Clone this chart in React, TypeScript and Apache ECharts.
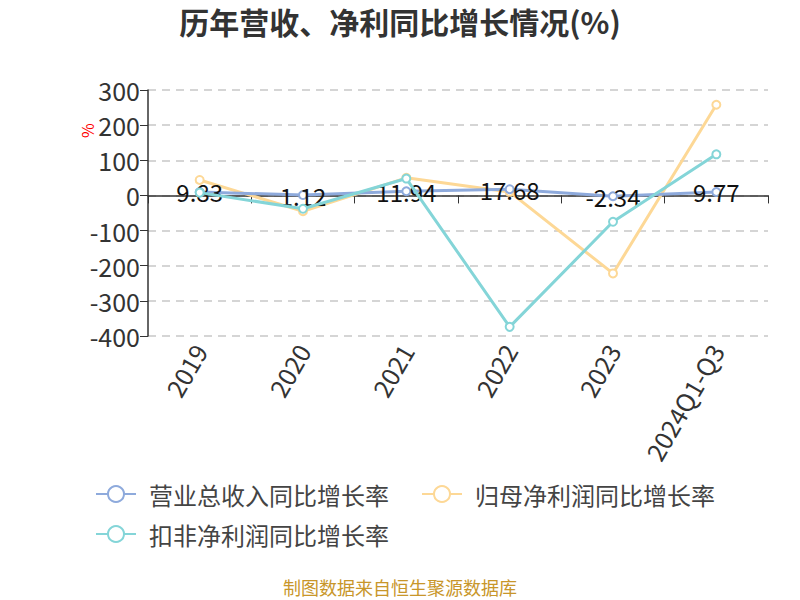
import React, { useEffect, useRef } from "react";
import * as echarts from "echarts";

const categories = ["2019", "2020", "2021", "2022", "2023", "2024Q1-Q3"];
const revenueGrowth = [9.83, 1.12, 11.94, 17.68, -2.34, 9.77];
const parentProfitGrowth = [44, -45, 50, 10, -222, 258];
const deductedProfitGrowth = [8, -38, 48, -374, -75, 117];
const yTicks = { min: -400, max: 300, interval: 100 };

export default function App() {
  const ref = useRef<HTMLDivElement>(null);
  useEffect(() => {
    if (!ref.current) return;
    const chart = echarts.init(ref.current, null, { renderer: "svg" });
    const font = "'Microsoft YaHei', 'Noto Sans CJK SC', sans-serif";
    const lineSeries = (name: string, data: number[], color: string, withLabel: boolean, z: number) => ({
      name,
      type: "line",
      data,
      symbol: "emptyCircle",
      symbolSize: 8,
      z,
      lineStyle: { width: 3, color },
      itemStyle: { color, borderWidth: 2 },
      label: withLabel
        ? { show: true, position: "inside", color: "#111", fontSize: 24, fontFamily: font }
        : { show: false },
    });
    chart.setOption({
      animation: false,
      backgroundColor: "#fff",
      title: {
        text: "历年营收、净利同比增长情况(%)",
        left: "center",
        top: 1,
        textStyle: { fontSize: 30, fontWeight: "bold", color: "#333", fontFamily: font },
      },
      grid: { left: 148, right: 32, top: 90, bottom: 264 },
      legend: {
        left: 90,
        top: 476,
        width: 700,
        itemWidth: 40,
        itemHeight: 20,
        itemGap: 14,
        textStyle: {
          fontSize: 24,
          lineHeight: 26,
          color: "#444",
          fontFamily: font,
          padding: [0, 18, 0, 8],
        },
        data: ["营业总收入同比增长率", "归母净利润同比增长率", "扣非净利润同比增长率"],
      },
      graphic: [
        {
          type: "text",
          left: "center",
          top: 578,
          style: { text: "制图数据来自恒生聚源数据库", fill: "#c8962a", fontSize: 18, fontFamily: font },
        },
        {
          type: "text",
          x: 79,
          y: 138,
          rotation: Math.PI / 2,
          style: { text: "%", fill: "red", fontSize: 16, fontFamily: font },
        },
      ],
      xAxis: [
        {
          type: "category",
          data: categories,
          boundaryGap: true,
          axisLine: { onZero: true, lineStyle: { color: "#333", width: 1.5 } },
          axisTick: { show: true, length: 8, lineStyle: { color: "#333" } },
          axisLabel: { show: false },
        },
        {
          type: "category",
          data: categories,
          position: "bottom",
          boundaryGap: true,
          axisLine: { show: false, onZero: false },
          axisTick: { show: false },
          axisLabel: { rotate: 60, fontSize: 25, color: "#333", margin: 10, fontFamily: font },
        },
      ],
      yAxis: {
        type: "value",
        min: yTicks.min,
        max: yTicks.max,
        interval: yTicks.interval,
        axisLine: { show: true, lineStyle: { color: "#333", width: 1.5 } },
        axisTick: { show: true, length: 8, lineStyle: { color: "#333" } },
        axisLabel: { fontSize: 25, color: "#333", margin: 8, fontFamily: font },
        splitLine: { lineStyle: { type: [8, 6], color: "#c8c8c8", width: 1.5 } },
      },
      series: [
        lineSeries("营业总收入同比增长率", revenueGrowth, "#8eaadc", true, 3),
        lineSeries("归母净利润同比增长率", parentProfitGrowth, "#fdd896", false, 2),
        lineSeries("扣非净利润同比增长率", deductedProfitGrowth, "#84d5d8", false, 4),
      ],
    });
    return () => chart.dispose();
  }, []);
  return <div ref={ref} style={{ position: "fixed", left: 0, top: 0, width: 800, height: 600 }} />;
}
